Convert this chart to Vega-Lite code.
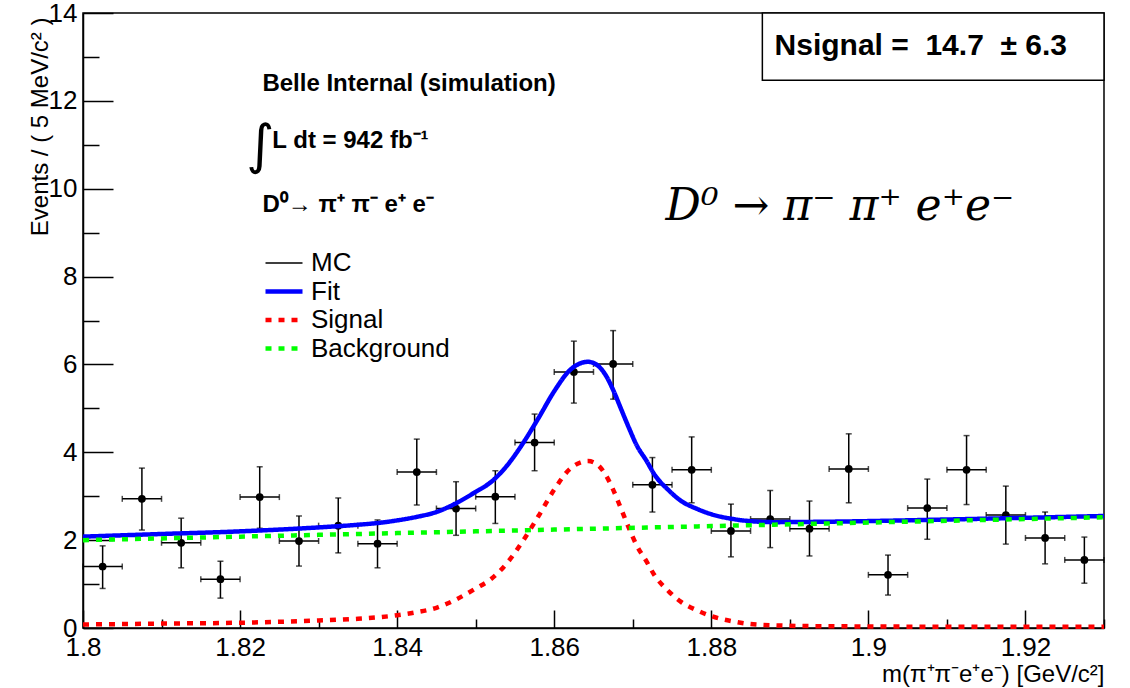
{
  "$schema": "https://vega.github.io/schema/vega-lite/v6.json",
  "width": 1021,
  "height": 615,
  "autosize": {"type": "none"},
  "padding": {"left": 83, "top": 13, "right": 26, "bottom": 60},
  "background": "white",
  "datasets": {
    "mc": [
      {"series": "MC", "x": 1.8025, "xlo": 1.800, "xhi": 1.805, "y": 1.40, "ylo": 0.90, "yhi": 1.87},
      {"series": "MC", "x": 1.8075, "xlo": 1.805, "xhi": 1.810, "y": 2.94, "ylo": 2.23, "yhi": 3.64},
      {"series": "MC", "x": 1.8125, "xlo": 1.810, "xhi": 1.815, "y": 1.94, "ylo": 1.37, "yhi": 2.50},
      {"series": "MC", "x": 1.8175, "xlo": 1.815, "xhi": 1.820, "y": 1.11, "ylo": 0.68, "yhi": 1.52},
      {"series": "MC", "x": 1.8225, "xlo": 1.820, "xhi": 1.825, "y": 2.98, "ylo": 2.27, "yhi": 3.67},
      {"series": "MC", "x": 1.8275, "xlo": 1.825, "xhi": 1.830, "y": 1.98, "ylo": 1.41, "yhi": 2.55},
      {"series": "MC", "x": 1.8325, "xlo": 1.830, "xhi": 1.835, "y": 2.33, "ylo": 1.71, "yhi": 2.96},
      {"series": "MC", "x": 1.8375, "xlo": 1.835, "xhi": 1.840, "y": 1.92, "ylo": 1.37, "yhi": 2.46},
      {"series": "MC", "x": 1.8425, "xlo": 1.840, "xhi": 1.845, "y": 3.55, "ylo": 2.80, "yhi": 4.30},
      {"series": "MC", "x": 1.8475, "xlo": 1.845, "xhi": 1.850, "y": 2.72, "ylo": 2.11, "yhi": 3.33},
      {"series": "MC", "x": 1.8525, "xlo": 1.850, "xhi": 1.855, "y": 2.99, "ylo": 2.38, "yhi": 3.58},
      {"series": "MC", "x": 1.8575, "xlo": 1.855, "xhi": 1.860, "y": 4.22, "ylo": 3.58, "yhi": 4.87},
      {"series": "MC", "x": 1.8625, "xlo": 1.860, "xhi": 1.865, "y": 5.83, "ylo": 5.12, "yhi": 6.53},
      {"series": "MC", "x": 1.8675, "xlo": 1.865, "xhi": 1.870, "y": 6.01, "ylo": 5.21, "yhi": 6.77},
      {"series": "MC", "x": 1.8725, "xlo": 1.870, "xhi": 1.875, "y": 3.26, "ylo": 2.64, "yhi": 3.88},
      {"series": "MC", "x": 1.8775, "xlo": 1.875, "xhi": 1.880, "y": 3.60, "ylo": 2.85, "yhi": 4.35},
      {"series": "MC", "x": 1.8825, "xlo": 1.880, "xhi": 1.885, "y": 2.21, "ylo": 1.62, "yhi": 2.82},
      {"series": "MC", "x": 1.8875, "xlo": 1.885, "xhi": 1.890, "y": 2.48, "ylo": 1.83, "yhi": 3.13},
      {"series": "MC", "x": 1.8925, "xlo": 1.890, "xhi": 1.895, "y": 2.26, "ylo": 1.64, "yhi": 2.89},
      {"series": "MC", "x": 1.8975, "xlo": 1.895, "xhi": 1.900, "y": 3.62, "ylo": 2.85, "yhi": 4.42},
      {"series": "MC", "x": 1.9025, "xlo": 1.900, "xhi": 1.905, "y": 1.21, "ylo": 0.75, "yhi": 1.66},
      {"series": "MC", "x": 1.9075, "xlo": 1.905, "xhi": 1.910, "y": 2.73, "ylo": 2.02, "yhi": 3.39},
      {"series": "MC", "x": 1.9125, "xlo": 1.910, "xhi": 1.915, "y": 3.60, "ylo": 2.81, "yhi": 4.38},
      {"series": "MC", "x": 1.9175, "xlo": 1.915, "xhi": 1.920, "y": 2.57, "ylo": 1.91, "yhi": 3.23},
      {"series": "MC", "x": 1.9225, "xlo": 1.920, "xhi": 1.925, "y": 2.05, "ylo": 1.46, "yhi": 2.64},
      {"series": "MC", "x": 1.9275, "xlo": 1.925, "xhi": 1.930, "y": 1.55, "ylo": 1.02, "yhi": 2.07}
    ],
    "curves": [
      {"x": 1.800, "Signal": 0.08, "Background": 2.000, "Fit": 2.08},
      {"x": 1.810, "Signal": 0.10, "Background": 2.040, "Fit": 2.14},
      {"x": 1.820, "Signal": 0.12, "Background": 2.080, "Fit": 2.20},
      {"x": 1.830, "Signal": 0.17, "Background": 2.120, "Fit": 2.29},
      {"x": 1.835, "Signal": 0.21, "Background": 2.140, "Fit": 2.35},
      {"x": 1.838, "Signal": 0.25, "Background": 2.152, "Fit": 2.40},
      {"x": 1.840, "Signal": 0.29, "Background": 2.160, "Fit": 2.45},
      {"x": 1.8425, "Signal": 0.36, "Background": 2.170, "Fit": 2.53},
      {"x": 1.845, "Signal": 0.46, "Background": 2.180, "Fit": 2.64},
      {"x": 1.8475, "Signal": 0.65, "Background": 2.190, "Fit": 2.84},
      {"x": 1.850, "Signal": 0.90, "Background": 2.200, "Fit": 3.10},
      {"x": 1.852, "Signal": 1.12, "Background": 2.208, "Fit": 3.33},
      {"x": 1.854, "Signal": 1.48, "Background": 2.216, "Fit": 3.70},
      {"x": 1.856, "Signal": 1.98, "Background": 2.224, "Fit": 4.20},
      {"x": 1.858, "Signal": 2.55, "Background": 2.232, "Fit": 4.78},
      {"x": 1.860, "Signal": 3.15, "Background": 2.240, "Fit": 5.39},
      {"x": 1.862, "Signal": 3.62, "Background": 2.248, "Fit": 5.87},
      {"x": 1.8643, "Signal": 3.80, "Background": 2.257, "Fit": 6.06},
      {"x": 1.8655, "Signal": 3.72, "Background": 2.262, "Fit": 5.98},
      {"x": 1.8665, "Signal": 3.50, "Background": 2.266, "Fit": 5.77},
      {"x": 1.8675, "Signal": 3.15, "Background": 2.270, "Fit": 5.42},
      {"x": 1.8685, "Signal": 2.72, "Background": 2.274, "Fit": 4.99},
      {"x": 1.8695, "Signal": 2.28, "Background": 2.278, "Fit": 4.56},
      {"x": 1.8705, "Signal": 1.88, "Background": 2.282, "Fit": 4.16},
      {"x": 1.8718, "Signal": 1.50, "Background": 2.287, "Fit": 3.79},
      {"x": 1.8727, "Signal": 1.22, "Background": 2.291, "Fit": 3.51},
      {"x": 1.8746, "Signal": 0.83, "Background": 2.298, "Fit": 3.13},
      {"x": 1.8761, "Signal": 0.60, "Background": 2.304, "Fit": 2.90},
      {"x": 1.8782, "Signal": 0.40, "Background": 2.313, "Fit": 2.71},
      {"x": 1.880, "Signal": 0.27, "Background": 2.320, "Fit": 2.59},
      {"x": 1.8828, "Signal": 0.15, "Background": 2.331, "Fit": 2.48},
      {"x": 1.8845, "Signal": 0.10, "Background": 2.338, "Fit": 2.44},
      {"x": 1.888, "Signal": 0.06, "Background": 2.352, "Fit": 2.41},
      {"x": 1.895, "Signal": 0.04, "Background": 2.380, "Fit": 2.42},
      {"x": 1.910, "Signal": 0.03, "Background": 2.440, "Fit": 2.47},
      {"x": 1.930, "Signal": 0.03, "Background": 2.520, "Fit": 2.55}
    ],
    "notes": [
      {"kind": "bold", "x": 1.82284, "y": 12.38, "text": "Belle Internal (simulation)"},
      {"kind": "bold", "x": 1.82411, "y": 11.09, "text": "L dt = 942 fb⁻¹"},
      {"kind": "bold", "x": 1.82284, "y": 9.63, "text": "D⁰→ π⁺ π⁻ e⁺ e⁻"},
      {"kind": "integral", "x": 1.82258, "y": 10.95, "text": "∫"},
      {"kind": "formula", "x": 1.87418, "y": 9.58, "text": "D⁰ → π⁻ π⁺ e⁺e⁻"},
      {"kind": "nsignal", "x": 1.90667, "y": 13.25, "text": "Nsignal =\u00a0 14.7\u00a0 ± 6.3"}
    ],
    "box": [
      {"x": 1.8865, "x2": 1.93, "y": 12.47, "y2": 14}
    ]
  },
  "layer": [
    {
      "data": {"name": "mc"},
      "mark": {"type": "errorbar", "ticks": {"size": 6, "thickness": 1.5, "color": "black"}, "thickness": 1.5, "color": "black"},
      "encoding": {
        "x": {"field": "x", "type": "quantitative", "title": "m(π⁺π⁻e⁺e⁻) [GeV/c²]"},
        "y": {"field": "ylo", "type": "quantitative", "title": "Events / ( 5 MeV/c² )"},
        "y2": {"field": "yhi"}
      }
    },
    {
      "data": {"name": "mc"},
      "mark": {"type": "errorbar", "ticks": {"size": 6, "thickness": 1.5, "color": "black"}, "thickness": 1.5, "color": "black"},
      "encoding": {
        "y": {"field": "y", "type": "quantitative", "title": "Events / ( 5 MeV/c² )"},
        "x": {"field": "xlo", "type": "quantitative", "title": "m(π⁺π⁻e⁺e⁻) [GeV/c²]"},
        "x2": {"field": "xhi"}
      }
    },
    {
      "data": {"name": "mc"},
      "mark": {"type": "point", "filled": true, "size": 60, "opacity": 1},
      "encoding": {
        "x": {
          "field": "x", "type": "quantitative",
          "title": "m(π⁺π⁻e⁺e⁻) [GeV/c²]",
          "scale": {"domain": [1.8, 1.93], "nice": false, "zero": false},
          "axis": {
            "titleFont": "Liberation Sans", "titleFontSize": 24, "titleFontWeight": "normal",
            "titleAnchor": "end", "titleAlign": "right", "titleBaseline": "middle",
            "titleX": 1021, "titleY": 46,
            "values": [1.8, 1.805, 1.81, 1.815, 1.82, 1.825, 1.83, 1.835, 1.84, 1.845, 1.85, 1.855, 1.86, 1.865, 1.87, 1.875, 1.88, 1.885, 1.89, 1.895, 1.9, 1.905, 1.91, 1.915, 1.92, 1.925, 1.93],
            "labelExpr": "abs(datum.value*50 - round(datum.value*50)) < 0.000001 ? format(datum.value, '~g') : ''",
            "labelFlush": false, "labelOverlap": false, "labelBound": false,
            "labelFont": "Liberation Sans", "labelFontSize": 26, "labelPadding": 24,
            "tickSize": {"condition": {"test": "abs(datum.value*50 - round(datum.value*50)) < 0.000001", "value": -18}, "value": -9},
            "grid": false
          }
        },
        "y": {
          "field": "y", "type": "quantitative",
          "title": "Events / ( 5 MeV/c² )",
          "scale": {"domain": [0, 14], "nice": false, "zero": true},
          "axis": {
            "titleFont": "Liberation Sans", "titleFontSize": 24, "titleFontWeight": "normal",
            "titleAnchor": "end", "titleAlign": "right", "titleBaseline": "middle", "titleAngle": -90,
            "titleX": -43, "titleY": 4,
            "values": [0, 0.5, 1, 1.5, 2, 2.5, 3, 3.5, 4, 4.5, 5, 5.5, 6, 6.5, 7, 7.5, 8, 8.5, 9, 9.5, 10, 10.5, 11, 11.5, 12, 12.5, 13, 13.5, 14],
            "labelExpr": "datum.value % 2 == 0 ? format(datum.value, 'd') : ''",
            "labelOverlap": false, "labelBound": false, "labelFlush": false,
            "labelFont": "Liberation Sans", "labelFontSize": 26, "labelPadding": 36,
            "tickSize": {"condition": {"test": "datum.value % 2 == 0", "value": -30}, "value": -16},
            "grid": false
          }
        },
        "color": {
          "field": "series", "type": "nominal",
          "scale": {"domain": ["MC", "Fit", "Signal", "Background"], "range": ["black", "#0000ff", "#ff0000", "#00ff00"]},
          "legend": {
            "title": null, "orient": "none", "legendX": 188, "legendY": 237,
            "symbolType": "stroke", "symbolSize": 400, "symbolStrokeWidth": 4.5,
            "labelFont": "Liberation Sans", "labelFontSize": 26, "labelColor": "black",
            "labelOffset": 14, "rowPadding": 2.5, "padding": 0,
            "encode": {"symbols": {"update": {"size": {"value": 1369}, "strokeWidth": {"signal": "datum.value === 'MC' ? 1.5 : 4.5"}}}}
          }
        }
      }
    },
    {
      "data": {"name": "curves"},
      "transform": [
        {"fold": ["Fit", "Signal", "Background"], "as": ["series", "value"]},
        {"filter": "datum.series === 'Fit'"}
      ],
      "mark": {"type": "line", "strokeWidth": 4.5, "interpolate": "monotone"},
      "encoding": {
        "x": {"field": "x", "type": "quantitative"},
        "y": {"field": "value", "type": "quantitative"},
        "color": {
          "field": "series", "type": "nominal",
          "legend": {
            "title": null, "orient": "none", "legendX": 188, "legendY": 237,
            "symbolType": "stroke", "symbolSize": 400, "symbolStrokeWidth": 4.5,
            "labelFont": "Liberation Sans", "labelFontSize": 26, "labelColor": "black",
            "labelOffset": 14, "rowPadding": 2.5, "padding": 0,
            "encode": {"symbols": {"update": {"size": {"value": 1369}, "strokeWidth": {"signal": "datum.value === 'MC' ? 1.5 : 4.5"}}}}
          }
        },
        "strokeDash": {
          "field": "series", "type": "nominal",
          "scale": {"domain": ["MC", "Fit", "Signal", "Background"], "range": [[1, 0], [1, 0], [6, 7], [6, 7]]},
          "legend": {
            "title": null, "orient": "none", "legendX": 188, "legendY": 237,
            "symbolType": "stroke", "symbolSize": 400, "symbolStrokeWidth": 4.5,
            "labelFont": "Liberation Sans", "labelFontSize": 26, "labelColor": "black",
            "labelOffset": 14, "rowPadding": 2.5, "padding": 0,
            "encode": {"symbols": {"update": {"size": {"value": 1369}, "strokeWidth": {"signal": "datum.value === 'MC' ? 1.5 : 4.5"}}}}
          }
        }
      }
    },
    {
      "data": {"name": "curves"},
      "transform": [
        {"fold": ["Fit", "Signal", "Background"], "as": ["series", "value"]},
        {"filter": "datum.series === 'Signal'"}
      ],
      "mark": {"type": "line", "strokeWidth": 4.5, "interpolate": "monotone"},
      "encoding": {
        "x": {"field": "x", "type": "quantitative"},
        "y": {"field": "value", "type": "quantitative"},
        "color": {"field": "series", "type": "nominal"},
        "strokeDash": {"field": "series", "type": "nominal"}
      }
    },
    {
      "data": {"name": "curves"},
      "transform": [
        {"fold": ["Fit", "Signal", "Background"], "as": ["series", "value"]},
        {"filter": "datum.series === 'Background'"}
      ],
      "mark": {"type": "line", "strokeWidth": 4.5, "interpolate": "monotone"},
      "encoding": {
        "x": {"field": "x", "type": "quantitative"},
        "y": {"field": "value", "type": "quantitative"},
        "color": {"field": "series", "type": "nominal"},
        "strokeDash": {"field": "series", "type": "nominal"}
      }
    },
    {
      "data": {"name": "box"},
      "mark": {"type": "rect", "fill": "white", "stroke": "black", "strokeWidth": 1.5},
      "encoding": {
        "x": {"field": "x", "type": "quantitative"},
        "x2": {"field": "x2"},
        "y": {"field": "y", "type": "quantitative"},
        "y2": {"field": "y2"}
      }
    },
    {
      "data": {"name": "notes"},
      "transform": [{"filter": "datum.kind === 'bold'"}],
      "mark": {"type": "text", "align": "left", "baseline": "middle", "font": "Liberation Sans", "fontWeight": "bold", "fontSize": 24, "color": "black"},
      "encoding": {
        "x": {"field": "x", "type": "quantitative"},
        "y": {"field": "y", "type": "quantitative"},
        "text": {"field": "text"}
      }
    },
    {
      "data": {"name": "notes"},
      "transform": [{"filter": "datum.kind === 'integral'"}],
      "mark": {"type": "text", "align": "center", "baseline": "middle", "font": "DejaVu Sans", "fontSize": 54, "color": "black"},
      "encoding": {
        "x": {"field": "x", "type": "quantitative"},
        "y": {"field": "y", "type": "quantitative"},
        "text": {"field": "text"}
      }
    },
    {
      "data": {"name": "notes"},
      "transform": [{"filter": "datum.kind === 'formula'"}],
      "mark": {"type": "text", "align": "left", "baseline": "middle", "font": "DejaVu Serif", "fontStyle": "italic", "fontSize": 44, "color": "black"},
      "encoding": {
        "x": {"field": "x", "type": "quantitative"},
        "y": {"field": "y", "type": "quantitative"},
        "text": {"field": "text"}
      }
    },
    {
      "data": {"name": "notes"},
      "transform": [{"filter": "datum.kind === 'nsignal'"}],
      "mark": {"type": "text", "align": "center", "baseline": "middle", "font": "Liberation Sans", "fontWeight": "bold", "fontSize": 30, "color": "black"},
      "encoding": {
        "x": {"field": "x", "type": "quantitative"},
        "y": {"field": "y", "type": "quantitative"},
        "text": {"field": "text"}
      }
    }
  ],
  "config": {
    "view": {"stroke": "black", "strokeWidth": 1.5},
    "axis": {
      "domainColor": "black", "domainWidth": 1.5,
      "tickColor": "black", "tickWidth": 1.5,
      "labelColor": "black", "titleColor": "black", "grid": false
    }
  }
}
